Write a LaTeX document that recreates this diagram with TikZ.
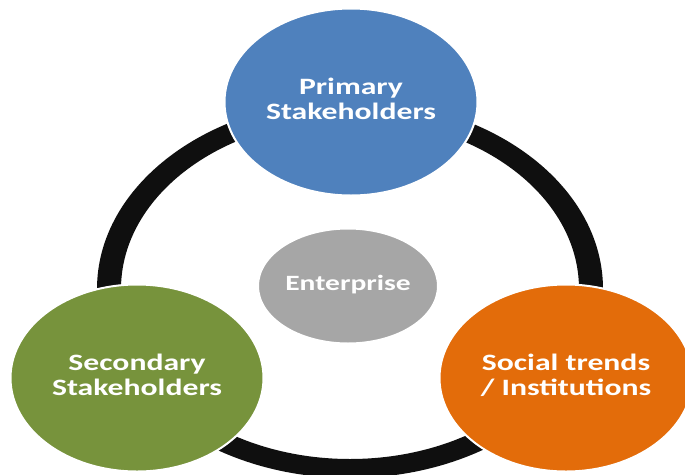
\documentclass[tikz,border=0pt]{standalone}
\usepackage{fontspec}
\usepackage{graphicx}
\setmainfont{Carlito}
\usetikzlibrary{shapes.geometric}
\definecolor{ringc}{HTML}{0F0F0F}
\definecolor{bluec}{HTML}{4F81BD}
\definecolor{greenc}{HTML}{77933C}
\definecolor{orangec}{HTML}{E36C0A}
\definecolor{grayc}{HTML}{A6A6A6}
\newcommand{\squishtext}[1]{\scalebox{1}[0.74]{\begin{tabular}{@{}c@{}}#1\end{tabular}}}
\tikzset{
  bub/.style={ellipse, draw=white, line width=2pt, inner sep=0pt, text=white,
    font=\fontsize{31.7}{34}\selectfont\bfseries, align=center,
    minimum width=253pt, minimum height=187pt},
  core/.style={bub, font=\fontsize{29.5}{32}\selectfont\bfseries,
    minimum width=180pt, minimum height=115pt, fill=grayc}
}
\begin{document}
\begin{tikzpicture}[x=1pt,y=-1pt]
  \clip (0,0) rectangle (685,474);
  \fill[white] (0,0) rectangle (685,474);
  % ring
  \fill[ringc, even odd rule] (350,289) ellipse [x radius=253, y radius=189]
                              (350,289) ellipse [x radius=229, y radius=170];
  \node[bub, fill=bluec]   (primary)   at (351,102) {\squishtext{Primary\\Stakeholders}};
  \node[bub, fill=greenc]  (secondary) at (137,378) {\squishtext{Secondary\\Stakeholders}};
  \node[bub, fill=orangec] (social)    at (566,378) {\squishtext{Social trends\\/ Institutions}};
  \node[core]              (enterprise) at (348,286) {\squishtext{Enterprise}};
\end{tikzpicture}
\end{document}
